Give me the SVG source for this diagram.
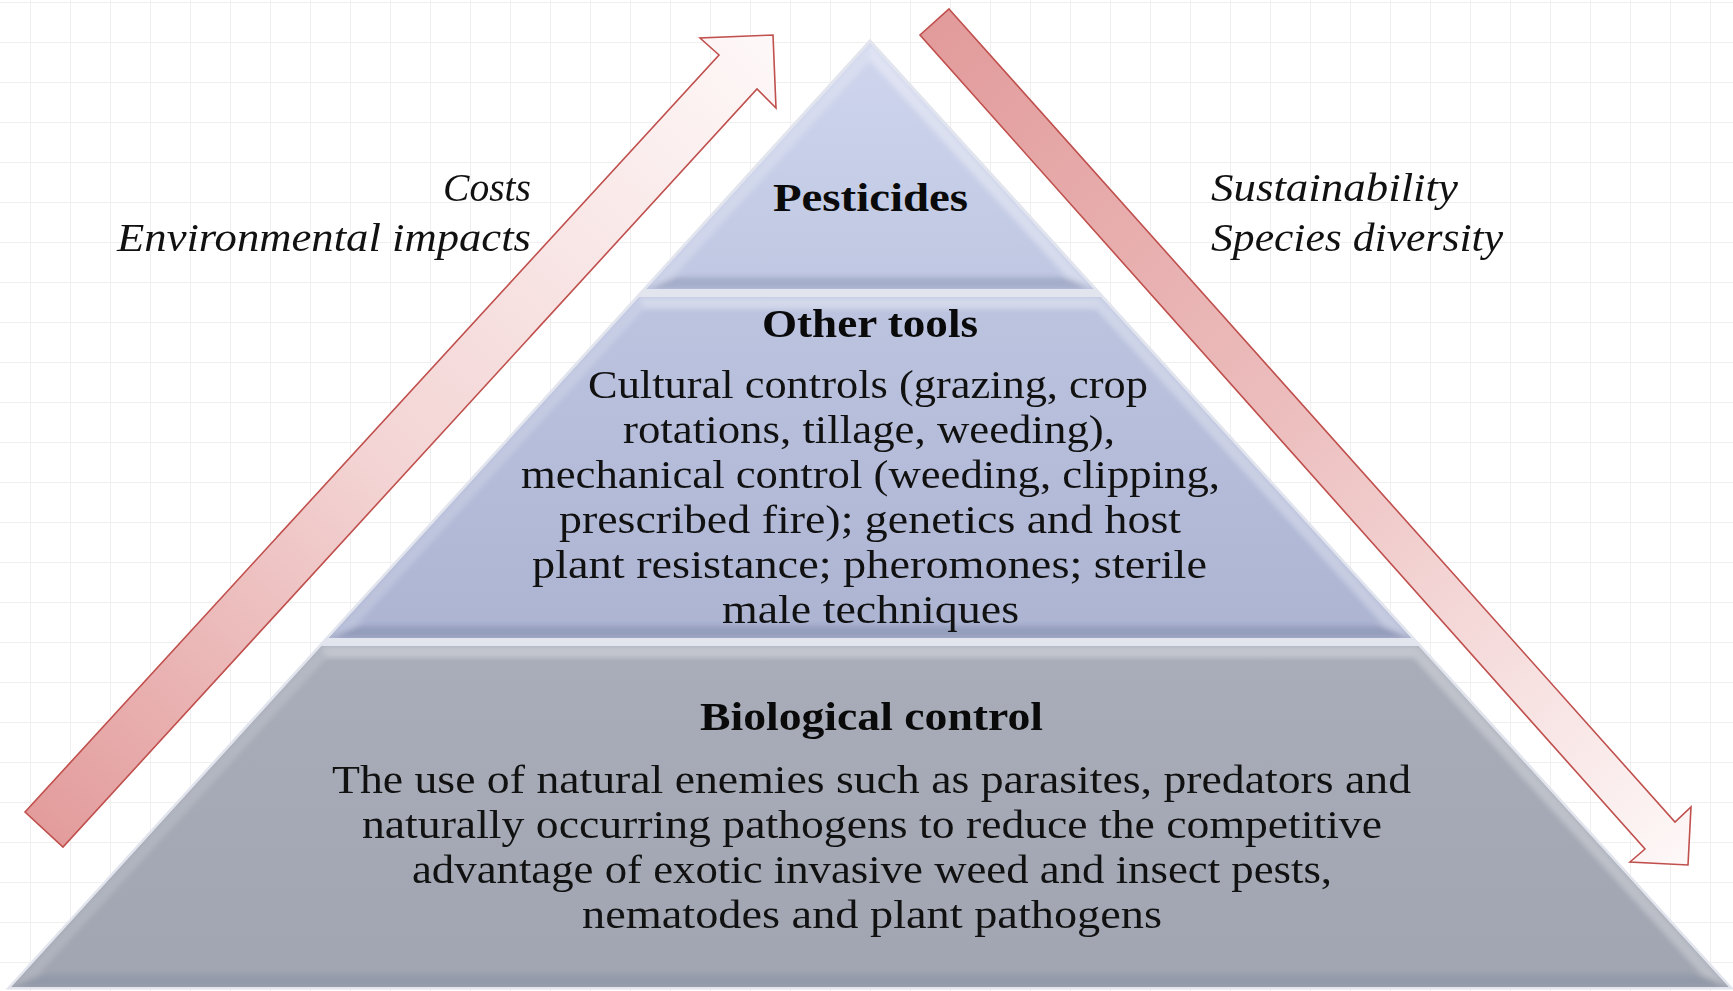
<svg xmlns="http://www.w3.org/2000/svg" width="1733" height="991" viewBox="0 0 1733 991">
  <defs>
    <pattern id="grid" x="30" y="2" width="40" height="40" patternUnits="userSpaceOnUse">
      <path d="M0 0.5 H40 M0.5 0 V40" stroke="#efefef" stroke-width="1" fill="none"/>
    </pattern>
    <linearGradient id="g1" x1="0" y1="43" x2="0" y2="289" gradientUnits="userSpaceOnUse">
      <stop offset="0" stop-color="#cfd5ed"/>
      <stop offset="1" stop-color="#bfc7e2"/>
    </linearGradient>
    <linearGradient id="g2" x1="0" y1="297" x2="0" y2="638" gradientUnits="userSpaceOnUse">
      <stop offset="0" stop-color="#bcc4e0"/>
      <stop offset="1" stop-color="#acb4d2"/>
    </linearGradient>
    <linearGradient id="g3" x1="0" y1="646" x2="0" y2="987" gradientUnits="userSpaceOnUse">
      <stop offset="0" stop-color="#a8adb9"/>
      <stop offset="1" stop-color="#a0a5b1"/>
    </linearGradient>
    <linearGradient id="arrUp" x1="44" y1="830" x2="773" y2="35" gradientUnits="userSpaceOnUse">
      <stop offset="0" stop-color="#e39c9c"/>
      <stop offset="0.45" stop-color="#f3d3d3"/>
      <stop offset="1" stop-color="#fef8f8"/>
    </linearGradient>
    <linearGradient id="arrDown" x1="934" y1="22" x2="1688" y2="865" gradientUnits="userSpaceOnUse">
      <stop offset="0" stop-color="#e29b9b"/>
      <stop offset="0.45" stop-color="#ecbcbc"/>
      <stop offset="1" stop-color="#fef8f8"/>
    </linearGradient>
    <filter id="soft" x="-5%" y="-5%" width="110%" height="110%">
      <feGaussianBlur stdDeviation="2.5"/>
    </filter>
    <clipPath id="c1"><polygon points="870,43 1093.9,289 646.1,289"/></clipPath>
    <clipPath id="c2"><polygon points="638.9,297 1101.1,297 1411.5,638 328.5,638"/></clipPath>
    <clipPath id="c3"><polygon points="321.3,646 1418.7,646 1729,987 11,987"/></clipPath>
  </defs>
  <style>
    .lab { font-family: "Liberation Serif", "Times New Roman", serif; font-style: italic; font-size: 39px; fill: #111; }
    .ttl { font-family: "Liberation Serif", "Times New Roman", serif; font-weight: bold; font-size: 41px; fill: #0a0a0a; }
    .body { font-family: "Liberation Serif", "Times New Roman", serif; font-size: 41px; fill: #111; }
    .arrow { stroke: #c0504d; stroke-width: 1.6; stroke-linejoin: miter; }
    .fl { fill: #ffffff; }
    .fd { fill: #3a4468; }
  </style>

  <rect width="1733" height="991" fill="#ffffff"/>
  <rect width="1733" height="991" fill="url(#grid)"/>

  <!-- pyramid outline glow -->
  <polygon points="870,41 1731,988 9,988" fill="#e2e5ee" stroke="#e2e5ee" stroke-width="3"/>

  <g id="tier-pesticides">
    <g clip-path="url(#c1)">
      <polygon points="870,43 1093.9,289 646.1,289" fill="url(#g1)"/>
      <g filter="url(#soft)">
        <polygon class="fl" opacity="0.22" points="870,43 646.1,289 673.2,277 870,60.8"/>
        <polygon class="fl" opacity="0.35" points="870,43 1093.9,289 1066.8,277 870,60.8"/>
        <polygon class="fd" opacity="0.2" points="646.1,289 1093.9,289 1066.8,277 673.2,277"/>
      </g>
    </g>
    <text class="ttl" x="773" y="211" textLength="195" lengthAdjust="spacingAndGlyphs">Pesticides</text>
  </g>

  <g id="tier-other-tools">
    <g clip-path="url(#c2)">
      <polygon points="638.9,297 1101.1,297 1411.5,638 328.5,638" fill="url(#g2)"/>
      <g filter="url(#soft)">
        <polygon class="fl" opacity="0.35" points="638.9,297 1101.1,297 1095.9,309 644.1,309"/>
        <polygon class="fl" opacity="0.18" points="638.9,297 644.1,309 355.7,626 328.5,638"/>
        <polygon class="fl" opacity="0.3" points="1101.1,297 1411.5,638 1384.3,626 1095.9,309"/>
        <polygon class="fd" opacity="0.2" points="328.5,638 1411.5,638 1384.3,626 355.7,626"/>
      </g>
    </g>
    <text class="ttl" x="762" y="337" textLength="216" lengthAdjust="spacingAndGlyphs">Other tools</text>
    <text class="body" x="588" y="398" textLength="560" lengthAdjust="spacingAndGlyphs">Cultural controls (grazing, crop</text>
    <text class="body" x="623" y="443" textLength="492" lengthAdjust="spacingAndGlyphs">rotations, tillage, weeding),</text>
    <text class="body" x="521" y="488" textLength="699" lengthAdjust="spacingAndGlyphs">mechanical control (weeding, clipping,</text>
    <text class="body" x="559" y="533" textLength="622" lengthAdjust="spacingAndGlyphs">prescribed fire); genetics and host</text>
    <text class="body" x="532" y="578" textLength="675" lengthAdjust="spacingAndGlyphs">plant resistance; pheromones; sterile</text>
    <text class="body" x="722" y="623" textLength="297" lengthAdjust="spacingAndGlyphs">male techniques</text>
  </g>

  <g id="tier-biological-control">
    <g clip-path="url(#c3)">
      <polygon points="321.3,646 1418.7,646 1729,987 11,987" fill="url(#g3)"/>
      <g filter="url(#soft)">
        <polygon class="fl" opacity="0.3" points="321.3,646 1418.7,646 1413.5,658 326.5,658"/>
        <polygon class="fl" opacity="0.15" points="321.3,646 326.5,658 38.1,975 11,987"/>
        <polygon class="fl" opacity="0.28" points="1418.7,646 1729,987 1701.9,975 1413.5,658"/>
        <polygon class="fd" opacity="0.12" points="11,987 1729,987 1701.9,975 38.1,975"/>
      </g>
    </g>
    <text class="ttl" x="700" y="730" textLength="343" lengthAdjust="spacingAndGlyphs">Biological control</text>
    <text class="body" x="332" y="793" textLength="1079" lengthAdjust="spacingAndGlyphs">The use of natural enemies such as parasites, predators and</text>
    <text class="body" x="362" y="838" textLength="1020" lengthAdjust="spacingAndGlyphs">naturally occurring pathogens to reduce the competitive</text>
    <text class="body" x="412" y="883" textLength="920" lengthAdjust="spacingAndGlyphs">advantage of exotic invasive weed and insect pests,</text>
    <text class="body" x="582" y="928" textLength="580" lengthAdjust="spacingAndGlyphs">nematodes and plant pathogens</text>
  </g>

  <g id="arrows">
    <polygon id="arrow-up" class="arrow" fill="url(#arrUp)" points="25,812 719,55 700,38 773,35 776,108 757,89 63,847"/>
    <polygon id="arrow-down" class="arrow" fill="url(#arrDown)" points="949,9 1675,822 1691,807 1688,865 1630,862 1645,849 920,35"/>
  </g>

  <g id="label-left">
    <text class="lab" x="443" y="201" textLength="88" lengthAdjust="spacingAndGlyphs">Costs</text>
    <text class="lab" x="117" y="251" textLength="414" lengthAdjust="spacingAndGlyphs">Environmental impacts</text>
  </g>
  <g id="label-right">
    <text class="lab" x="1211" y="201" textLength="247" lengthAdjust="spacingAndGlyphs">Sustainability</text>
    <text class="lab" x="1211" y="251" textLength="292" lengthAdjust="spacingAndGlyphs">Species diversity</text>
  </g>
</svg>
